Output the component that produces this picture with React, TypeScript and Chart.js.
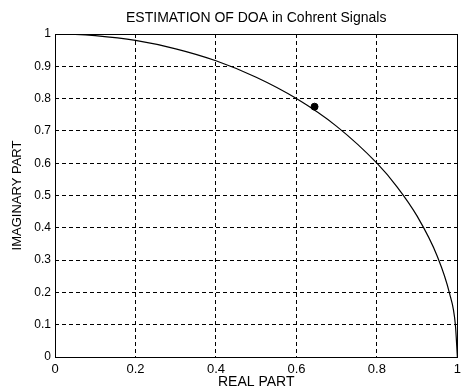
import React, { useEffect, useRef } from "react";
import { Chart, registerables } from "chart.js";

Chart.register(...registerables);

const titleText = "ESTIMATION OF DOA in Cohrent Signals";
const xLabel = "REAL PART";
const yLabel = "IMAGINARY PART";

const arcX = [0, 0.05, 0.1, 0.2, 0.3, 0.4, 0.5, 0.6, 0.7, 0.8, 0.85, 0.9, 0.95, 0.98, 0.995, 1];
const arcY = [1, 0.999, 0.995, 0.98, 0.954, 0.917, 0.866, 0.8, 0.714, 0.6, 0.527, 0.436, 0.312, 0.199, 0.1, 0];

const estX = [0.645];
const estY = [0.775];

const xTicks = [0, 0.2, 0.4, 0.6, 0.8, 1];
const yTicks = [0, 0.1, 0.2, 0.3, 0.4, 0.5, 0.6, 0.7, 0.8, 0.9, 1];

const FONT = "Liberation Sans, Arial, sans-serif";

export default function App() {
  const ref = useRef<HTMLCanvasElement>(null);
  useEffect(() => {
    if (!ref.current) return;
    const boxPlugin = {
      id: "boxAndTitle",
      afterDraw(chart: any) {
        const { ctx, chartArea } = chart;
        ctx.save();
        ctx.strokeStyle = "#000";
        ctx.lineWidth = 1;
        ctx.setLineDash([]);
        ctx.strokeRect(
          Math.round(chartArea.left) + 0.5,
          Math.round(chartArea.top) + 0.5,
          Math.round(chartArea.right - chartArea.left),
          Math.round(chartArea.bottom - chartArea.top)
        );
        ctx.fillStyle = "#000";
        ctx.font = `14px ${FONT}`;
        ctx.textAlign = "center";
        ctx.textBaseline = "middle";
        ctx.fillText(titleText, (chartArea.left + chartArea.right) / 2, 18);
        ctx.restore();
      },
    };
    const chart = new Chart(ref.current, {
      type: "scatter",
      data: {
        datasets: [
          {
            data: arcX.map((x, i) => ({ x, y: arcY[i] })),
            showLine: true,
            borderColor: "#000",
            borderWidth: 1.2,
            pointRadius: 0,
            cubicInterpolationMode: "monotone",
          } as any,
          {
            data: estX.map((x, i) => ({ x, y: estY[i] })),
            showLine: false,
            backgroundColor: "#000",
            borderColor: "#000",
            pointRadius: 3.5,
          },
        ],
      },
      options: {
        animation: false,
        responsive: false,
        layout: { padding: { left: 0, right: 8, top: 34, bottom: 0 } },
        plugins: {
          legend: { display: false },
          tooltip: { enabled: false },
          title: { display: false },
        },
        scales: {
          x: {
            type: "linear",
            min: 0,
            max: 1,
            afterFit(scale: any) {
              scale.height = 34;
            },
            afterBuildTicks(scale: any) {
              scale.ticks = xTicks.map((v) => ({ value: v }));
            },
            ticks: {
              color: "#000",
              font: { family: FONT, size: 13 },
              padding: 5,
              maxRotation: 0,
              callback: (v: any) => String(v),
            },
            grid: {
              color: "#000",
              lineWidth: 1,
              drawTicks: false,
            },
            border: { display: false, dash: [4, 3] },
            title: {
              display: true,
              text: xLabel,
              color: "#000",
              font: { family: FONT, size: 14 },
              padding: { top: 0, bottom: 0 },
            },
          },
          y: {
            type: "linear",
            min: 0,
            max: 1,
            afterFit(scale: any) {
              scale.width = 55;
            },
            afterBuildTicks(scale: any) {
              scale.ticks = yTicks.map((v) => ({ value: v }));
            },
            ticks: {
              color: "#000",
              font: { family: FONT, size: 12 },
              padding: 4,
              callback: (v: any) => String(v),
            },
            grid: {
              color: "#000",
              lineWidth: 1,
              drawTicks: false,
            },
            border: { display: false, dash: [4, 3] },
            title: {
              display: true,
              text: yLabel,
              color: "#000",
              font: { family: FONT, size: 13 },
              padding: { top: 10, bottom: 0 },
            },
          },
        },
      },
      plugins: [boxPlugin],
    });
    return () => chart.destroy();
  }, []);
  return (
    <div style={{ position: "fixed", left: 0, top: 0, width: 466, height: 391, background: "#fff" }}>
      <canvas ref={ref} width={466} height={391} style={{ width: 466, height: 391 }} />
    </div>
  );
}
